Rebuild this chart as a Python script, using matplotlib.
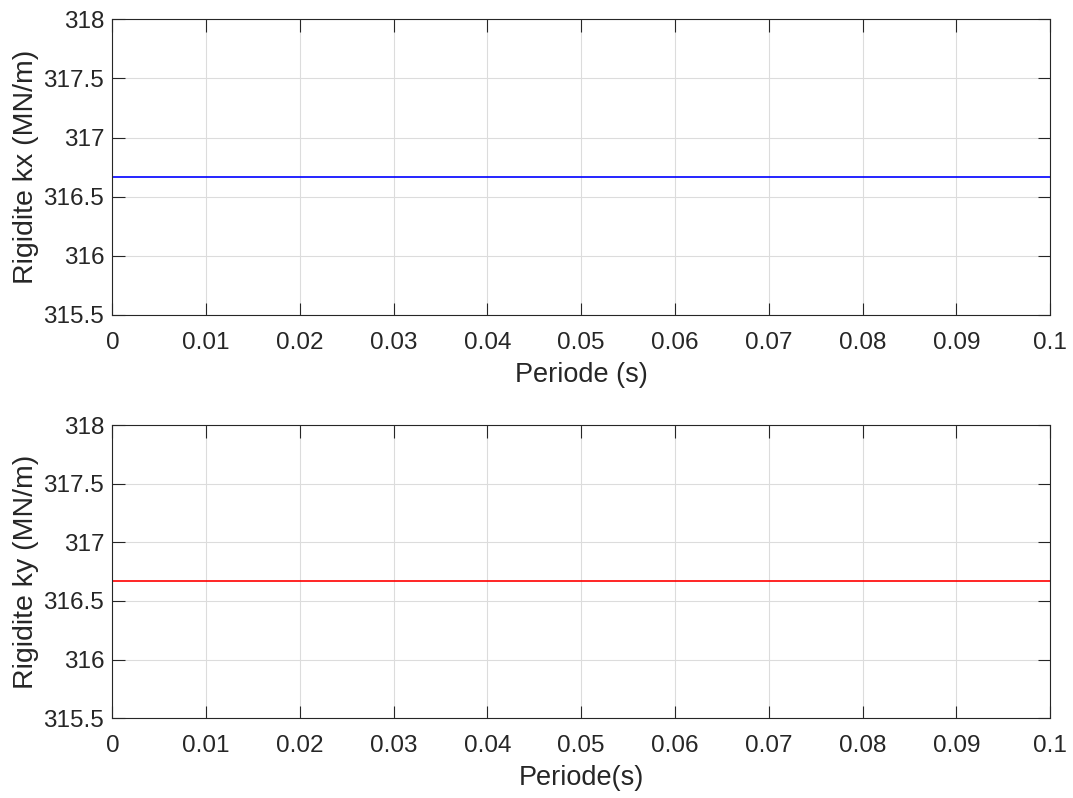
import matplotlib
matplotlib.use("Agg")
import matplotlib.pyplot as plt

plt.rcParams['font.family'] = ['Liberation Sans', 'DejaVu Sans']

# data
periode = [0.0, 0.1]
kx = [316.667, 316.667]
ky = [316.667, 316.667]
xticks = [0, 0.01, 0.02, 0.03, 0.04, 0.05, 0.06, 0.07, 0.08, 0.09, 0.1]
xticklabels = ["0", "0.01", "0.02", "0.03", "0.04", "0.05", "0.06", "0.07", "0.08", "0.09", "0.1"]
yticks = [315.5, 316, 316.5, 317, 317.5, 318]
yticklabels = ["315.5", "316", "316.5", "317", "317.5", "318"]

fig = plt.figure(figsize=(10.73, 7.98), dpi=100)
ax1 = fig.add_axes([0.1048, 0.6053, 0.8738, 0.3705])
ax2 = fig.add_axes([0.1048, 0.1000, 0.8738, 0.3674])

panels = [
    (ax1, kx, "#0000ff", "Rigidite kx (MN/m)", "Periode (s)"),
    (ax2, ky, "#ff0000", "Rigidite ky (MN/m)", "Periode(s)"),
]

txt = "#262626"
for ax, vals, col, ylab, xlab in panels:
    ax.plot(periode, vals, color=col, lw=1.2)
    ax.set_xlim(0, 0.1)
    ax.set_ylim(315.5, 318)
    ax.set_xticks(xticks)
    ax.set_xticklabels(xticklabels)
    ax.set_yticks(yticks)
    ax.set_yticklabels(yticklabels)
    ax.grid(True, color="#dcdcdc", lw=0.8)
    ax.set_axisbelow(True)
    ax.tick_params(direction="in", length=9, width=0.8, top=True, right=True,
                   labelsize=17.5, colors=txt)
    ax.tick_params(axis="x", pad=12)
    ax.tick_params(axis="y", pad=6)
    for s in ax.spines.values():
        s.set_color(txt)
        s.set_linewidth(0.8)
    ax.set_ylabel(ylab, fontsize=20.5, color=txt, labelpad=3)
    ax.set_xlabel(xlab, fontsize=19.5, color=txt, labelpad=6)

fig.savefig("out.png", dpi=100)
